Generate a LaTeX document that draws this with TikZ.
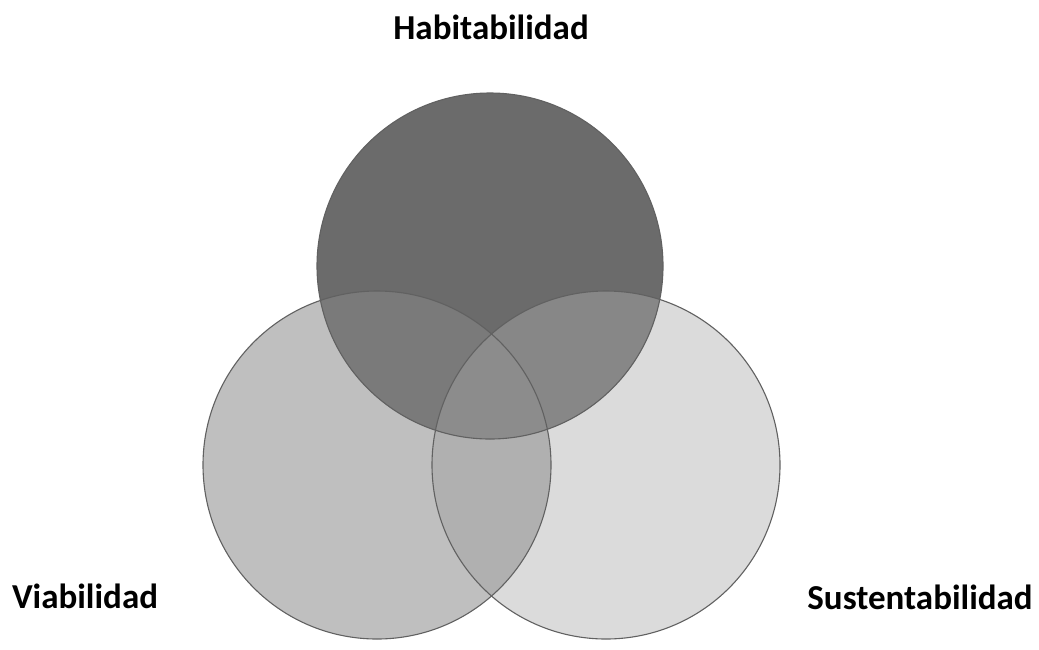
\documentclass[tikz,border=0pt]{standalone}
\usepackage{fontspec}
\setmainfont{Carlito}
\usetikzlibrary{positioning}

\begin{document}
\begin{tikzpicture}[x=1pt,y=-1pt,
    rim/.style={draw=black!62,line width=1.1pt},
    lbl/.style={font=\fontsize{35}{40}\selectfont\bfseries,inner sep=0pt}]
  \useasboundingbox (0,0) rectangle (1039,649);
  \coordinate (hab) at (490,266);
  \coordinate (via) at (377,465);
  \coordinate (sus) at (606,465);
  % single circles
  \fill[black!25] (via) circle (174);
  \fill[black!14] (sus) circle (174);
  \fill[black!58] (hab) circle (173);
  % overlaps
  \begin{scope}
    \clip (via) circle (174);
    \fill[black!52] (hab) circle (173);
    \fill[black!31] (sus) circle (174);
  \end{scope}
  \begin{scope}
    \clip (sus) circle (174);
    \fill[black!47] (hab) circle (173);
  \end{scope}
  \begin{scope}
    \clip (via) circle (174);
    \clip (sus) circle (174);
    \fill[black!45] (hab) circle (173);
  \end{scope}
  % outlines
  \draw[rim] (via) circle (174);
  \draw[rim] (sus) circle (174);
  \draw[rim] (hab) circle (173);
  % labels
  \node[lbl] (habl) at (491,27) {Habitabilidad};
  \node[lbl] (vial) at (85,596) {Viabilidad};
  \node[lbl] (susl) at (920,597) {Sustentabilidad};
\end{tikzpicture}
\end{document}
